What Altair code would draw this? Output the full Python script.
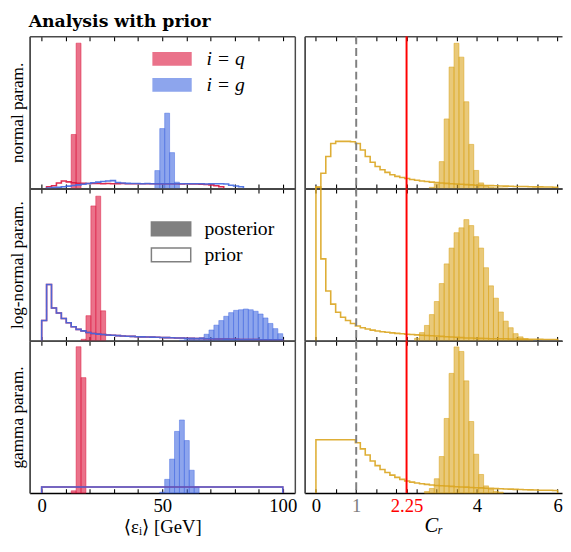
import numpy as np
import pandas as pd
import altair as alt

# ---------------- text ----------------
TITLE = "Analysis with prior"
ROW_TITLES = ["normal param.", "log-normal param.", "gamma param."]
X_TITLE_E = "⟨εᵢ⟩ [GeV]"
X_TITLE_C = "Cᵣ"
LEGEND_PARTICLES = ["i = q", "i = g"]
LEGEND_KINDS = ["posterior", "prior"]

# ---------------- axes ----------------
E_TICKS = [0, 10, 20, 30, 40, 50, 60, 70, 80, 90, 100]
E_LABELED = [0, 50, 100]
C_TICKS = [0, 0.5, 1, 1.5, 2, 2.25, 2.5, 3, 3.5, 4, 4.5, 5, 5.5, 6]
C_LABELED = [0, 1, 2.25, 4, 6]
C_REF_DASHED = [1.0]
C_REF_RED = [2.25]
E_RANGE = [0, 100]
C_RANGE = [0, 6]
N_BINS = 49

# ---------------- data (bin start index, heights as fraction of panel) ----------------
# rows: normal, log-normal, gamma
POST_Q = [
    (6, [0.355, 0.955]),
    (8, [0.01, 0.165, 0.886, 0.95, 0.197]),
    (6, [0.015, 0.961, 0.758]),
]
POST_G = [
    (23, [0.118, 0.394, 0.495, 0.236, 0.042]),
    (28, [0.004, 0.008, 0.012, 0.016, 0.0215, 0.043, 0.071, 0.103, 0.133, 0.161, 0.185,
          0.2, 0.204, 0.209, 0.204, 0.194, 0.176, 0.15, 0.114, 0.08, 0.047]),
    (24, [0.006, 0.09, 0.223, 0.405, 0.48, 0.345, 0.15, 0.04]),
]
PRIOR_Q = [
    (1, [0.012, 0.018, 0.037, 0.05, 0.044, 0.038, 0.035, 0.034, 0.033, 0.033, 0.033, 0.032,
         0.033, 0.032, 0.032, 0.033, 0.032, 0.032, 0.031, 0.032, 0.032, 0.031, 0.032, 0.031,
         0.031, 0.031, 0.031, 0.030, 0.031, 0.030, 0.030, 0.029, 0.027, 0.024, 0.018, 0.012]),
    (0, [0.133, 0.37, 0.215, 0.183, 0.146, 0.118, 0.092, 0.075, 0.065, 0.054, 0.048, 0.044,
         0.041, 0.038, 0.036, 0.034, 0.032, 0.03, 0.029, 0.027, 0.026, 0.025, 0.024, 0.023,
         0.022, 0.021, 0.02, 0.019, 0.018, 0.017, 0.016, 0.015, 0.015, 0.014, 0.013, 0.012,
         0.012, 0.011, 0.01, 0.01, 0.009, 0.009, 0.008, 0.008, 0.007, 0.007, 0.006, 0.006, 0.006]),
    (0, [0.04, 0.04, 0.04, 0.04, 0.04, 0.04, 0.04, 0.04, 0.04, 0.04, 0.04, 0.04, 0.04, 0.04,
         0.04, 0.04, 0.04, 0.04, 0.04, 0.04, 0.04, 0.04, 0.04, 0.04, 0.04, 0.04, 0.04, 0.04,
         0.04, 0.04, 0.04, 0.04, 0.04, 0.04, 0.04, 0.04, 0.04, 0.04, 0.04, 0.04, 0.04, 0.04,
         0.04, 0.04, 0.04, 0.04, 0.04, 0.04, 0.04]),
]
PRIOR_G = [
    (1, [0.004, 0.006, 0.009, 0.012, 0.016, 0.02, 0.024, 0.028, 0.033, 0.038, 0.042, 0.046,
         0.05, 0.052, 0.04, 0.036, 0.034, 0.033, 0.033, 0.032, 0.033, 0.032, 0.032, 0.032,
         0.032, 0.031, 0.032, 0.031, 0.031, 0.031, 0.031, 0.031, 0.030, 0.031, 0.032, 0.031,
         0.030, 0.022, 0.017, 0.012]),
    (0, [0.133, 0.37, 0.215, 0.183, 0.146, 0.118, 0.092, 0.075, 0.065, 0.054, 0.048, 0.044,
         0.041, 0.038, 0.036, 0.034, 0.032, 0.03, 0.029, 0.027, 0.026, 0.025, 0.024, 0.023,
         0.022, 0.021, 0.02, 0.019, 0.018, 0.017, 0.016, 0.015, 0.015, 0.014, 0.013, 0.012,
         0.012, 0.011, 0.01, 0.01, 0.009, 0.009, 0.008, 0.008, 0.007, 0.007, 0.006, 0.006, 0.006]),
    (0, [0.04, 0.04, 0.04, 0.04, 0.04, 0.04, 0.04, 0.04, 0.04, 0.04, 0.04, 0.04, 0.04, 0.04,
         0.04, 0.04, 0.04, 0.04, 0.04, 0.04, 0.04, 0.04, 0.04, 0.04, 0.04, 0.04, 0.04, 0.04,
         0.04, 0.04, 0.04, 0.04, 0.04, 0.04, 0.04, 0.04, 0.04, 0.04, 0.04, 0.04, 0.04, 0.04,
         0.04, 0.04, 0.04, 0.04, 0.04, 0.04, 0.04]),
]
POST_C = [
    (23, [0.008, 0.03, 0.177, 0.457, 0.798, 0.954, 0.863, 0.57, 0.29, 0.119, 0.037, 0.015,
          0.008, 0.005, 0.004, 0.003]),
    (20, [0.017, 0.054, 0.101, 0.172, 0.258, 0.376, 0.505, 0.609, 0.71, 0.742, 0.796, 0.757,
          0.684, 0.609, 0.48, 0.361, 0.28, 0.189, 0.129, 0.086, 0.047, 0.026, 0.013, 0.006]),
    (22, [0.01, 0.03, 0.094, 0.24, 0.49, 0.786, 0.96, 0.93, 0.737, 0.47, 0.255, 0.122, 0.047,
          0.026, 0.012, 0.006]),
]
PRIOR_C = [
    (0, [0.009, 0.10, 0.21, 0.296, 0.31, 0.31, 0.31, 0.307, 0.296, 0.253, 0.21, 0.173, 0.145,
         0.123, 0.106, 0.091, 0.08, 0.072, 0.066, 0.06, 0.055, 0.05, 0.046, 0.042, 0.039,
         0.036, 0.034, 0.032, 0.03, 0.028, 0.026, 0.024, 0.022, 0.021, 0.02, 0.019, 0.018,
         0.017, 0.016, 0.015, 0.014, 0.013, 0.013, 0.012, 0.011, 0.011, 0.01, 0.01, 0.009]),
    (0, [1.01, 0.538, 0.327, 0.241, 0.187, 0.155, 0.133, 0.114, 0.097, 0.086, 0.077, 0.07,
         0.064, 0.06, 0.056, 0.052, 0.049, 0.046, 0.043, 0.041, 0.039, 0.037, 0.035, 0.033,
         0.031, 0.029, 0.027, 0.025, 0.023, 0.021, 0.019, 0.018, 0.017, 0.016, 0.015, 0.014,
         0.014, 0.013, 0.013, 0.012, 0.012, 0.011, 0.011, 0.01, 0.01, 0.01, 0.009, 0.009, 0.009]),
    (0, [0.35, 0.35, 0.35, 0.35, 0.35, 0.35, 0.35, 0.35, 0.33, 0.29, 0.25, 0.21, 0.18, 0.155,
         0.135, 0.118, 0.103, 0.09, 0.079, 0.072, 0.066, 0.061, 0.057, 0.053, 0.05, 0.048,
         0.046, 0.044, 0.042, 0.04, 0.039, 0.037, 0.035, 0.034, 0.032, 0.031, 0.029, 0.028,
         0.027, 0.026, 0.024, 0.023, 0.022, 0.021, 0.02, 0.019, 0.018, 0.018, 0.017]),
]

# ---------------- style ----------------
SERIF = "Liberation Serif, DejaVu Serif, serif"
TITLE_FONT = "DejaVu Serif, serif"
RED = "#dc143c"
BLUE = "#4169e1"
GOLD = "#daa520"
BORDER = "#4a4a4a"
W_L, W_R, H = 270, 262, 155
E_DOMAIN = [-5, 105]
C_DOMAIN = [-0.28, 6.11]
TICK = {"expr": "-4.5"}

E_EDGES = np.linspace(E_RANGE[0], E_RANGE[1], N_BINS + 1)
C_EDGES = np.linspace(C_RANGE[0], C_RANGE[1], N_BINS + 1)


def bar_frame(edges, start, heights):
    n = len(heights)
    return pd.DataFrame({"x0": edges[start:start + n], "x1": edges[start + 1:start + 1 + n],
                         "h": heights})


def step_frame(edges, start, heights):
    n = len(heights)
    xs = [edges[start]] + list(edges[start:start + n]) + [edges[start + n], edges[start + n]]
    ys = [0.0] + list(heights) + [heights[-1], 0.0]
    return pd.DataFrame({"x": xs, "y": ys, "i": list(range(len(xs)))})


def bottom_axis(ticks, show, label_expr, title, title_size, title_pad, label_color=None,
                title_style="normal"):
    kw = dict(orient="bottom", values=ticks, tickSize=TICK, tickColor="black", tickWidth=1.1,
              domainColor="black", domainWidth=1.4, grid=False)
    if show:
        kw.update(labels=True, labelExpr=label_expr, labelFont=SERIF, labelFontSize=19,
                  labelPadding=8, labelOverlap=False, labelFlush=False, title=title,
                  titleFont=SERIF, titleFontSize=title_size, titleFontWeight="normal",
                  titleFontStyle=title_style, titlePadding=title_pad, titleColor="black")
        if label_color is not None:
            kw["labelColor"] = label_color
    else:
        kw.update(labels=False, title=None)
    return alt.Axis(**kw)


def top_axis(ticks):
    return alt.Axis(orient="top", values=ticks, tickSize=TICK, tickColor="black", tickWidth=1.1,
                    domainColor=BORDER, domainWidth=1.5, labels=False, title=None, grid=False)


def left_axis(title):
    kw = dict(orient="left", ticks=False, labels=False, domainColor=BORDER, domainWidth=1.8,
              grid=False)
    if title:
        kw.update(title=title, titleFont=SERIF, titleFontSize=17.5, titleFontWeight="normal",
                  titlePadding=3, titleColor="black")
    else:
        kw.update(title=None)
    return alt.Axis(**kw)


def right_axis():
    return alt.Axis(orient="right", ticks=False, labels=False, domainColor=BORDER,
                    domainWidth=1.5, title=None, grid=False)


def bars(df, color, xs, ys, xaxis, yaxis):
    return alt.Chart(df).mark_rect(fill=color, fillOpacity=0.6, stroke=color, strokeOpacity=0.6,
                                   strokeWidth=0.8).encode(
        x=alt.X("x0:Q", scale=xs, axis=xaxis), x2="x1:Q",
        y=alt.Y("h:Q", scale=ys, axis=yaxis), y2=alt.datum(0))


def steps(df, color, xs, ys, xaxis, yaxis):
    return alt.Chart(df).mark_line(interpolate="step-after", color=color, strokeWidth=1.6,
                                   opacity=0.9).encode(
        x=alt.X("x:Q", scale=xs, axis=xaxis), y=alt.Y("y:Q", scale=ys, axis=yaxis),
        order="i:Q")


SWATCH = "M-2.86,-1L2.86,-1L2.86,1L-2.86,1Z"


def legend_particles():
    return alt.Chart(pd.DataFrame({"lab": LEGEND_PARTICLES})).transform_filter("false").mark_square(
        opacity=1).encode(
        fill=alt.Fill("lab:N", scale=alt.Scale(domain=LEGEND_PARTICLES, range=["#ea728a", "#8da5ed"]),
                      legend=alt.Legend(orient="none", legendX=135, legendY=13, title=None,
                                        symbolType=SWATCH, symbolSize=196, symbolStrokeWidth=0,
                                        labelFont=SERIF, labelFontSize=20,
                                        labelFontStyle="italic", labelOffset=25, rowPadding=6.5,
                                        padding=0, labelColor="black", labelLimit=300)))


def legend_kinds():
    return alt.Chart(pd.DataFrame({"kind": LEGEND_KINDS})).transform_filter("false").mark_square(
        opacity=1, stroke="#808080", strokeWidth=1.5).encode(
        fill=alt.Fill("kind:N", scale=alt.Scale(domain=LEGEND_KINDS, range=["#808080", "#ffffff"]),
                      legend=alt.Legend(orient="none", legendX=134, legendY=31, title=None,
                                        symbolType=SWATCH, symbolSize=196, symbolStrokeWidth=1.5,
                                        symbolStrokeColor="#808080", labelFont=SERIF,
                                        labelFontSize=20, labelOffset=24, rowPadding=6.5,
                                        padding=0, labelColor="black", labelLimit=300)))


def left_panel(r):
    last = r == 2
    xs = alt.Scale(domain=E_DOMAIN, nice=False, zero=False)
    ys = alt.Scale(domain=[0, 1], nice=False, zero=False)
    lab_expr = "indexof([0, 50, 100], datum.value) >= 0 ? datum.label : ''"
    layers = [
        bars(bar_frame(E_EDGES, *POST_Q[r]), RED, xs, ys,
             bottom_axis(E_TICKS, last, lab_expr, X_TITLE_E, 19, 2.5), left_axis(ROW_TITLES[r])),
        bars(bar_frame(E_EDGES, *POST_G[r]), BLUE, xs, ys, None, None),
        steps(step_frame(E_EDGES, *PRIOR_Q[r]), RED, xs, ys, top_axis(E_TICKS), right_axis()),
        steps(step_frame(E_EDGES, *PRIOR_G[r]), BLUE, xs, ys, None, None),
    ]
    if r == 0:
        layers.append(legend_particles())
    if r == 1:
        layers.append(legend_kinds())
    return alt.layer(*layers).resolve_axis(x="independent", y="independent").properties(
        width=W_L, height=H)


def right_panel(r):
    last = r == 2
    xs = alt.Scale(domain=C_DOMAIN, nice=False, zero=False)
    ys = alt.Scale(domain=[0, 1], nice=False, zero=False)
    lab_expr = ("datum.value == 0 ? '0' : datum.value == 1 ? '1' : datum.value == 2.25 ? '2.25' : "
                "datum.value == 4 ? '4' : datum.value == 6 ? '6' : ''")
    lab_color = {"expr": "datum.value == 1 ? '#808080' : (datum.value == 2.25 ? '#ff0000' : '#000000')"}
    gold_bars = alt.Chart(bar_frame(C_EDGES, *POST_C[r])).mark_rect(
        fill=GOLD, fillOpacity=0.6, stroke=GOLD, strokeOpacity=0.7, strokeWidth=0.8).encode(
        x=alt.X("x0:Q", scale=xs, axis=bottom_axis(C_TICKS, last, lab_expr, X_TITLE_C, 21, 0,
                                                     lab_color, "italic")),
        x2="x1:Q", y=alt.Y("h:Q", scale=ys, axis=left_axis(None)), y2=alt.datum(0))
    prior = alt.Chart(step_frame(C_EDGES, *PRIOR_C[r])).mark_line(
        interpolate="step-after", color=GOLD, strokeWidth=1.6, opacity=0.9).encode(
        x=alt.X("x:Q", scale=xs, axis=top_axis(C_TICKS)), y=alt.Y("y:Q", scale=ys, axis=None),
        order="i:Q")
    dashed = alt.Chart(pd.DataFrame({"v": C_REF_DASHED})).mark_rule(
        color="#808080", strokeWidth=2, strokeDash=[8, 4]).encode(
        x=alt.X("v:Q", scale=xs, axis=None))
    red = alt.Chart(pd.DataFrame({"v": C_REF_RED})).mark_rule(
        color="#ff0000", strokeWidth=2).encode(x=alt.X("v:Q", scale=xs, axis=None))
    return alt.layer(gold_bars, prior, dashed, red).resolve_axis(
        x="independent", y="independent").properties(width=W_R, height=H)


panels = []
for r in range(3):
    panels.append(left_panel(r))
    panels.append(right_panel(r))

chart = alt.concat(
    *panels, columns=2, spacing={"row": 0, "column": 10}, bounds="flush",
    title=alt.TitleParams(TITLE, anchor="start", font=TITLE_FONT, fontSize=17.6, fontWeight="bold",
                          dx=20, offset=5, color="black"),
).resolve_scale(fill="independent", stroke="independent").properties(
    padding={"left": 0, "top": 0, "right": 0, "bottom": 0}
).configure_view(strokeOpacity=0).configure_axis(grid=False)

chart.save("out.html", embed_options={"renderer": "svg", "actions": False})
